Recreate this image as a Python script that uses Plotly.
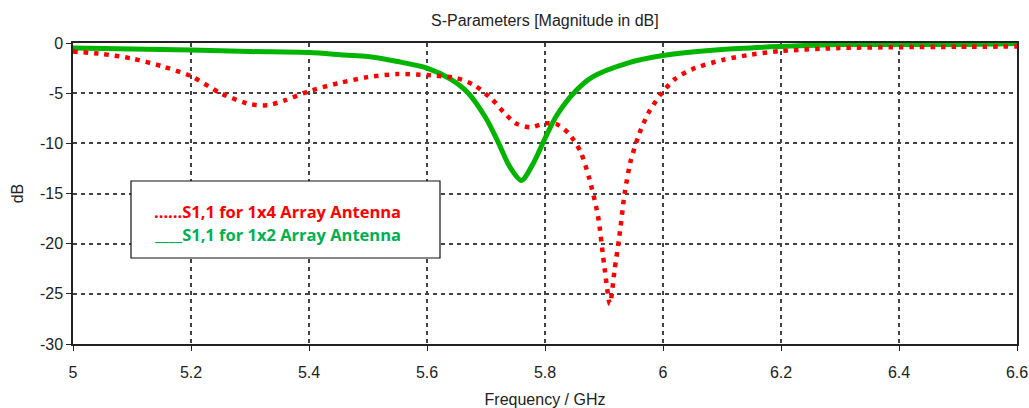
import plotly.graph_objects as go

# ---- data ----
freq_1x4 = [5.00, 5.05, 5.10, 5.15, 5.20, 5.25, 5.30, 5.33, 5.36, 5.40, 5.45, 5.50,
            5.55, 5.60, 5.65, 5.68, 5.71, 5.73, 5.75, 5.775, 5.80, 5.82, 5.84, 5.86,
            5.875, 5.89, 5.90, 5.91, 5.918, 5.926, 5.935, 5.945, 5.96, 5.975, 5.995,
            6.02, 6.05, 6.10, 6.15, 6.20, 6.30, 6.40, 6.50, 6.60]
s11_1x4 = [-0.85, -1.1, -1.55, -2.3, -3.3, -5.0, -6.1, -6.2, -5.7, -4.8, -4.0, -3.4,
           -3.1, -3.2, -3.5, -4.2, -5.6, -6.9, -8.0, -8.4, -8.0, -8.1, -9.0, -10.8,
           -13.5, -17.3, -22.0, -26.0, -22.6, -19.3, -15.0, -11.8, -9.0, -7.0, -5.2,
           -3.6, -2.6, -1.7, -1.15, -0.8, -0.5, -0.42, -0.38, -0.35]

freq_1x2 = [5.00, 5.10, 5.20, 5.30, 5.40, 5.46, 5.50, 5.55, 5.60, 5.64, 5.67, 5.70,
            5.72, 5.74, 5.76, 5.78, 5.80, 5.82, 5.85, 5.88, 5.94, 6.00, 6.10, 6.20,
            6.30, 6.40, 6.50, 6.60]
s11_1x2 = [-0.5, -0.6, -0.7, -0.85, -0.95, -1.2, -1.35, -1.85, -2.5, -3.6, -5.0, -7.5,
           -9.8, -12.3, -13.7, -12.0, -9.5, -7.2, -4.9, -3.4, -2.0, -1.25, -0.65, -0.35,
           -0.15, -0.15, -0.15, -0.05]

x_ticks = [5, 5.2, 5.4, 5.6, 5.8, 6, 6.2, 6.4, 6.6]
x_tick_labels = ["5", "5.2", "5.4", "5.6", "5.8", "6", "6.2", "6.4", "6.6"]
y_ticks = [0, -5, -10, -15, -20, -25, -30]
y_tick_labels = ["0", "-5", "-10", "-15", "-20", "-25", "-30"]

title_text = "S-Parameters [Magnitude in dB]"
x_title = "Frequency / GHz"
y_title = "dB"
legend_1x4 = "......S1,1 for 1x4 Array Antenna"
legend_1x2 = "____S1,1 for 1x2 Array Antenna"

RED = "#FF0000"
GREEN = "#00B400"
GREEN_TXT = "#00B050"
AXFONT = "Liberation Sans, sans-serif"
TXT = "#222222"

FW, FH = 1029, 408
L, R, T, B = 73, 1017, 43, 344
PW, PH = R - L, B - T


def px(xp):
    return (xp - L) / PW


def py(yp):
    return (B - yp) / PH


fig = go.Figure()
fig.add_trace(go.Scatter(x=freq_1x2, y=s11_1x2, mode="lines",
                         line=dict(color=GREEN, width=5, shape="spline", smoothing=0.8),
                         showlegend=False))
fig.add_trace(go.Scatter(x=freq_1x4, y=s11_1x4, mode="lines",
                         line=dict(color=RED, width=4.5, dash="4.5px,6px", shape="spline", smoothing=0.7),
                         showlegend=False))

grid = dict(showgrid=True, gridcolor="#444444", gridwidth=1.5, griddash="4px,4px")

fig.update_xaxes(range=[5, 6.6], tickvals=x_ticks, ticktext=x_tick_labels,
                 showline=True, linecolor=TXT, linewidth=1.5, mirror=True,
                 ticks="outside", ticklen=5, tickcolor=TXT, automargin=False,
                 ticklabelstandoff=8,
                 tickfont=dict(family=AXFONT, size=16, color=TXT),
                 title=dict(text=x_title, font=dict(family=AXFONT, size=16, color=TXT), standoff=18),
                 zeroline=False, **grid)
fig.update_yaxes(range=[-30, 0], tickvals=y_ticks, ticktext=y_tick_labels,
                 showline=True, linecolor=TXT, linewidth=1.5, mirror=True,
                 ticks="outside", ticklen=5, tickcolor=TXT, automargin=False,
                 tickfont=dict(family=AXFONT, size=16, color=TXT),
                 title=dict(text=y_title, font=dict(family=AXFONT, size=16, color=TXT), standoff=12),
                 zeroline=False, **grid)

# legend box (framed text block as in the reference)
fig.add_shape(type="rect", xref="paper", yref="paper",
              x0=px(131), x1=px(440), y0=py(258), y1=py(181),
              line=dict(color="#111111", width=1.2), fillcolor="white", layer="above")
fig.add_annotation(xref="paper", yref="paper", x=px(152), y=py(211),
                   xanchor="left", yanchor="middle", showarrow=False, text=legend_1x4,
                   font=dict(family="Open Sans, sans-serif", size=16.5, color=RED, weight="bold"))
fig.add_annotation(xref="paper", yref="paper", x=px(152), y=py(234),
                   xanchor="left", yanchor="middle", showarrow=False, text=legend_1x2,
                   font=dict(family="Open Sans, sans-serif", size=16.5, color=GREEN_TXT, weight="bold"))

# chart title
fig.add_annotation(xref="paper", yref="paper", x=px(545), y=py(20),
                   xanchor="center", yanchor="middle", showarrow=False, text=title_text,
                   font=dict(family=AXFONT, size=16, color=TXT))

fig.update_layout(
    width=FW, height=FH,
    margin=dict(l=L, r=FW - R, t=T, b=FH - B, autoexpand=False),
    paper_bgcolor="white", plot_bgcolor="white",
)

fig.write_html("out.html", config={"displayModeBar": False},
               post_script="document.body.style.margin='0';document.body.style.overflow='hidden';")
